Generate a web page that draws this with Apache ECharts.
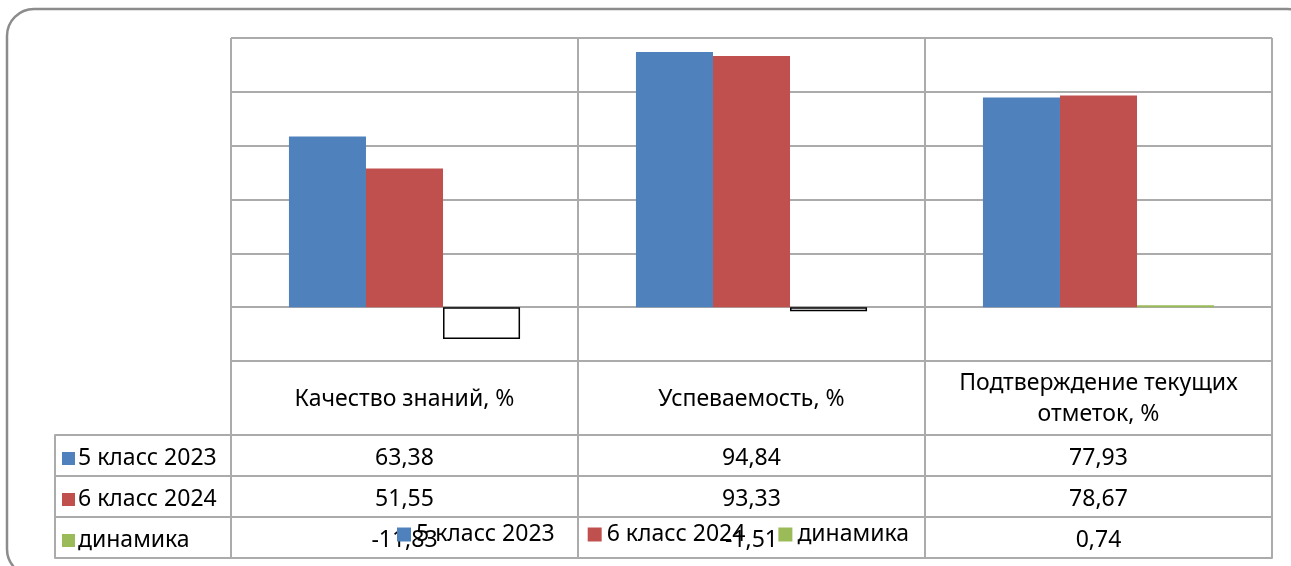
<!DOCTYPE html>
<html>
<head>
<meta charset="utf-8">
<script src="https://cdn.jsdelivr.net/npm/echarts@6/dist/echarts.min.js"></script>
<style>
html, body { margin: 0; padding: 0; background: #ffffff; }
#chart { width: 1291px; height: 566px; }
</style>
</head>
<body>
<div id="chart"></div>
<script>
const categories = ['Качество знаний, %', 'Успеваемость, %', 'Подтверждение текущих\nотметок, %']
const seriesNames = ['5 класс 2023', '6 класс 2024', 'динамика']
const class2023 = [63.38, 94.84, 77.93]
const class2024 = [51.55, 93.33, 78.67]
const dynamics = [-11.83, -1.51, 0.74]
const colors = ['#4F81BD', '#C0504D', '#9BBB59']

const font = 'Noto Sans'
const fontSize = 23
const lineColor = '#ababab'
const rows = [class2023, class2024, dynamics]
const fmt = v => v.toFixed(2).replace('.', ',')

// cells of the data table
const tableData = []
rows.forEach((r, ri) => {
  r.forEach((v, ci) => tableData.push([ci, ri, v]))
})

const chart = echarts.init(document.getElementById('chart'))

const keyRich = { t: { fontSize: fontSize, fontFamily: font, color: '#000', padding: [0, 0, 0, 3] } }
colors.forEach((c, i) => {
  keyRich['k' + i] = { width: 13, height: 13, backgroundColor: c }
})

const barBase = {
  type: 'bar',
  xAxisIndex: 0,
  yAxisIndex: 0,
  barGap: '0%',
  barCategoryGap: '33.4%'
}

chart.setOption({
  animation: false,
  textStyle: { fontFamily: font },
  color: colors,
  graphic: [{
    type: 'rect',
    shape: { x: 7, y: 9, width: 1307, height: 567, r: 27 },
    style: { fill: 'none', stroke: '#8c8c8c', lineWidth: 2.5 },
    z: -10
  }],
  legend: {
    data: seriesNames,
    icon: 'rect',
    itemWidth: 14,
    itemHeight: 14,
    itemGap: 33,
    left: 392,
    top: 518,
    textStyle: { fontSize: fontSize, color: '#000', fontFamily: font }
  },
  grid: [
    { left: 231, top: 38, width: 1041, height: 323 },
    { left: 231, top: 361, width: 1041, height: 74 },
    { left: 231, top: 435, width: 1041, height: 123 }
  ],
  xAxis: [
    {
      gridIndex: 0,
      type: 'category',
      data: categories,
      axisLine: { show: false },
      axisTick: { show: false },
      splitLine: { show: true, lineStyle: { color: lineColor, width: 2 } },
      axisLabel: {
        interval: 0,
        margin: 38,
        verticalAlign: 'middle',
        fontSize: fontSize,
        lineHeight: 31,
        color: '#000',
        fontFamily: font
      }
    },
    {
      gridIndex: 1,
      type: 'category',
      data: categories,
      axisLine: { show: false },
      axisTick: { show: false },
      axisLabel: { show: false },
      splitLine: { show: true, lineStyle: { color: lineColor, width: 2 } }
    },
    {
      gridIndex: 2,
      type: 'category',
      data: categories,
      axisLine: { show: true, lineStyle: { color: lineColor, width: 2 } },
      axisTick: { show: false },
      axisLabel: { show: false },
      splitLine: { show: true, lineStyle: { color: lineColor, width: 2 } }
    }
  ],
  yAxis: [
    {
      gridIndex: 0,
      type: 'value',
      min: -20,
      max: 100,
      interval: 20,
      axisLine: { show: false },
      axisTick: { show: false },
      axisLabel: { show: false },
      splitLine: { show: true, lineStyle: { color: lineColor, width: 2 } }
    },
    {
      gridIndex: 1,
      type: 'value',
      show: false
    },
    {
      gridIndex: 2,
      type: 'category',
      inverse: true,
      data: seriesNames,
      axisLine: { show: true, lineStyle: { color: lineColor, width: 2 } },
      axisTick: { show: true, length: 176, lineStyle: { color: lineColor, width: 2 } },
      splitLine: { show: true, lineStyle: { color: lineColor, width: 2 } },
      axisLabel: {
        align: 'left',
        margin: 169,
        padding: [6, 0, 0, 0],
        formatter: (v, i) => '{k' + i + '|}{t|' + v + '}',
        rich: keyRich
      }
    },
    {
      gridIndex: 2,
      type: 'category',
      inverse: true,
      position: 'left',
      offset: 176,
      data: seriesNames,
      axisLine: { show: true, lineStyle: { color: lineColor, width: 2 } },
      axisTick: { show: false },
      axisLabel: { show: false },
      splitLine: { show: false }
    }
  ],
  series: [
    Object.assign({ name: seriesNames[0], data: class2023 }, barBase),
    Object.assign({ name: seriesNames[1], data: class2024 }, barBase),
    Object.assign({
      name: seriesNames[2],
      data: dynamics.map(v => v < 0
        ? { value: v, itemStyle: { color: '#ffffff', borderColor: '#000000', borderWidth: 1.5 } }
        : v)
    }, barBase),
    {
      type: 'scatter',
      xAxisIndex: 2,
      yAxisIndex: 2,
      silent: true,
      symbolSize: 1,
      itemStyle: { color: 'rgba(0,0,0,0)', opacity: 1 },
      data: tableData,
      label: {
        show: true,
        position: 'inside',
        offset: [0, 3],
        fontSize: fontSize,
        color: '#000',
        opacity: 1,
        textBorderWidth: 0,
        fontFamily: font,
        formatter: p => fmt(p.value[2])
      }
    }
  ]
})
</script>
</body>
</html>
